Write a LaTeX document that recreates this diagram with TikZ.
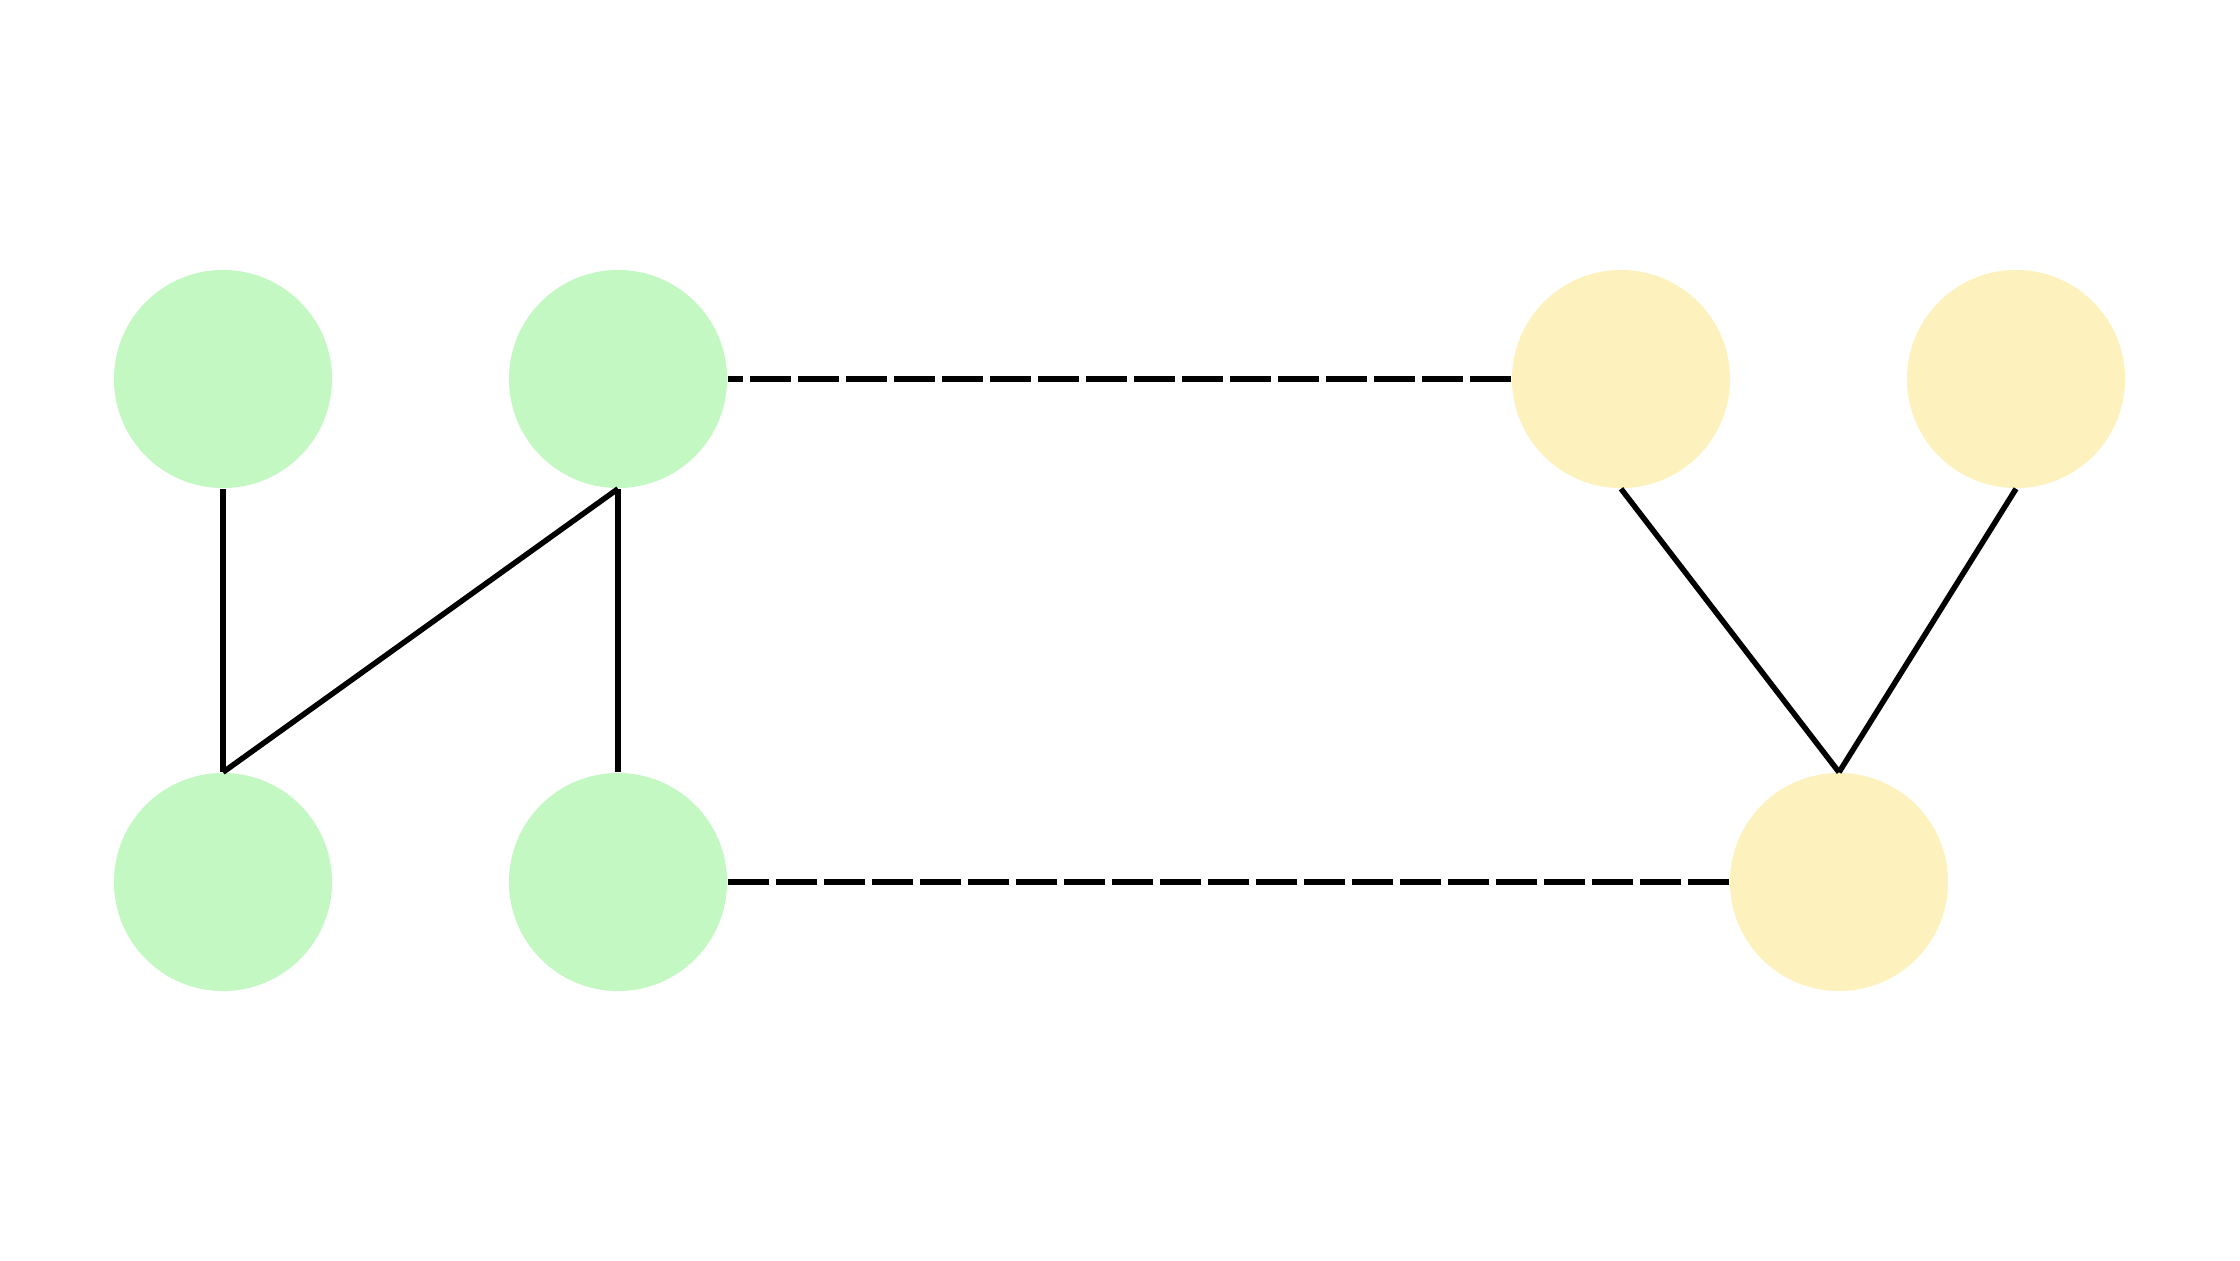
\documentclass[tikz,border=0pt]{standalone}
\begin{document}
\begin{tikzpicture}[x=0.01cm,y=-0.01cm,
  gnode/.style={circle,fill=greenfill,draw=none,minimum size=2.18cm,inner sep=0pt},
  ynode/.style={circle,fill=yellowfill,draw=none,minimum size=2.18cm,inner sep=0pt},
  edge/.style={line width=0.055cm,black},
  dedge/.style={line width=0.055cm,black,dash pattern=on 0.41cm off 0.07cm}]
\definecolor{greenfill}{HTML}{C3F8C3}
\definecolor{yellowfill}{HTML}{FDF1BD}
\useasboundingbox (0,0) rectangle (2240,1260);
\node[gnode] (g1) at (223,379) {};
\node[gnode] (g2) at (618,379) {};
\node[gnode] (g3) at (223,882) {};
\node[gnode] (g4) at (618,882) {};
\node[ynode] (y1) at (1621,379) {};
\node[ynode] (y2) at (2016,379) {};
\node[ynode] (y3) at (1839,882) {};
\draw[edge] (g1.south) -- (g3.north);
\draw[edge] (g2.south) -- (g3.north);
\draw[edge] (g2.south) -- (g4.north);
\draw[edge] (y1.south) -- (y3.north);
\draw[edge] (y2.south) -- (y3.north);
\draw[dedge] (y1.west) -- (g2.east);
\draw[dedge] (y3.west) -- (g4.east);
\end{tikzpicture}
\end{document}
